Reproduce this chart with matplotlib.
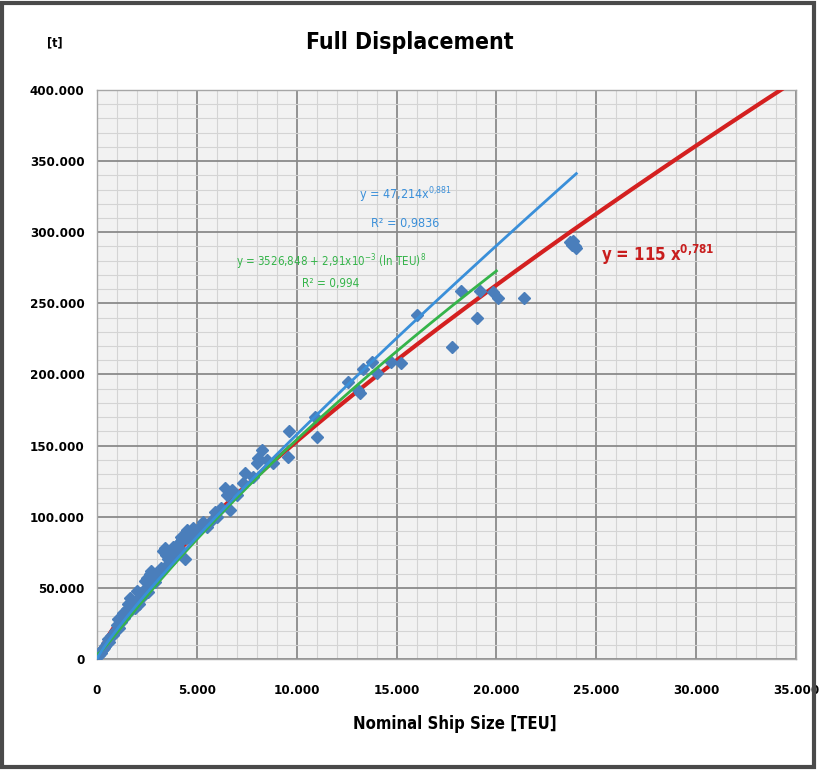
import numpy as np
import matplotlib.pyplot as plt
from matplotlib.patches import Rectangle
from matplotlib.ticker import MultipleLocator, FuncFormatter

plt.rcParams['font.family'] = ['DejaVu Sans']
plt.rcParams['font.stretch'] = 'condensed'
plt.rcParams['mathtext.fontset'] = 'dejavusans'

# Ship data: nominal size [TEU] and full displacement [1000 t]
teu = [100, 150, 200, 250, 300, 350, 400, 500, 550, 600, 700, 800, 900, 1000, 1050,
       1100, 1200, 1300, 1350, 1400, 1500, 1550, 1600, 1650, 1700, 1800, 1900, 2000,
       2050, 2100, 2200, 2300, 2400, 2450, 2500, 2550, 2600, 2650, 2700, 2750, 2800,
       2900, 3000, 3100, 3200, 3300, 3400, 3450, 3500, 3560, 3650, 3700, 3810, 3900,
       4000, 4100, 4160, 4200, 4250, 4310, 4400, 4410, 4450, 4500, 4550, 4600, 4660,
       4700, 4750, 4810, 4900, 5000, 5100, 5310, 5500, 5700, 5910, 6000, 6200, 6410,
       6510, 6660, 6760, 7000, 7310, 7410, 7800, 8010, 8060, 8260, 8500, 8810, 9560,
       9610, 10920, 11020, 12570, 13070, 13170, 13320, 13770, 14020, 14720, 15220,
       16020, 17780, 18230, 19030, 19180, 19830, 20080, 21380, 23700, 23780, 23850,
       23930, 24000]
disp_kt = [3, 5, 4, 6, 7, 8, 9, 11, 14, 12, 16, 17, 20, 24, 28,
           22, 26, 32, 29, 31, 35, 39, 33, 43, 37, 40, 36, 48,
           42, 39, 45, 44, 55, 50, 57, 47, 52, 60, 62, 58, 59,
           54, 58, 61, 64, 76, 78, 73, 66, 70, 68, 72, 79, 75,
           80, 78, 82, 86, 84, 86, 88, 70, 85, 91, 87, 89, 84,
           90, 86, 92, 88, 90, 92, 96, 93, 97, 103, 100, 106, 120,
           115, 105, 119, 115, 124, 131, 128, 138, 141, 147, 140, 138, 142,
           160, 170, 156, 195, 189, 187, 204, 209, 201, 209, 208,
           242, 219, 259, 240, 259, 258, 254, 254, 293, 291, 294,
           290, 289]

# Trend line coefficients as printed on the chart
red_a, red_b = 115, 0.781
blue_a, blue_b = 47.214, 0.881
green_c, green_a, green_n = 3526.848, 2.91e-3, 8
blue_end = 24000
green_end = 20000

fig = plt.figure(figsize=(8.27, 7.72), dpi=100)
ax = fig.add_axes([0.1173, 0.1464, 0.8452, 0.737])

ax.set_facecolor('#f2f2f2')
ax.set_xlim(0, 35000)
ax.set_ylim(0, 400000)
ax.xaxis.set_major_locator(MultipleLocator(5000))
ax.xaxis.set_minor_locator(MultipleLocator(1000))
ax.yaxis.set_major_locator(MultipleLocator(50000))
ax.yaxis.set_minor_locator(MultipleLocator(10000))
ax.grid(which='minor', color='#d4d4d4', lw=0.8)
ax.grid(which='major', color='#8a8a8a', lw=1.3)
ax.set_axisbelow(True)
ax.tick_params(which='both', length=0, labelsize=9.5)
ax.tick_params(axis='x', pad=18)
ax.tick_params(axis='y', pad=9)
fmt = FuncFormatter(lambda v, p: f'{int(v):,}'.replace(',', '.'))
ax.xaxis.set_major_formatter(fmt)
ax.yaxis.set_major_formatter(fmt)
for lab in ax.get_xticklabels() + ax.get_yticklabels():
    lab.set_fontweight('bold')
for s in ax.spines.values():
    s.set_color('#a6a6a6')
    s.set_linewidth(1.0)

# Trend lines
xr = np.linspace(0, 35000, 400)
ax.plot(xr, red_a * xr ** red_b, color='#d42020', lw=3, zorder=3)

ax.plot(teu, np.array(disp_kt) * 1000, 'D', color='#4a7ebb', ms=6.5, mec='#4a7ebb', zorder=4)

xg = np.linspace(50, green_end, 300)
ax.plot(xg, green_c + green_a * np.log(xg) ** green_n, color='#35b44a', lw=2, zorder=5)
xb = np.linspace(0, blue_end, 300)
ax.plot(xb, blue_a * xb ** blue_b, color='#3a8fd9', lw=2, zorder=6)

# Equation labels
ax.text(15450, 326000, r'y = 47,214x$^{0{,}881}$', color='#3a8fd9', fontsize=9,
        ha='center', va='center')
ax.text(15450, 306500, 'R² = 0,9836', color='#3a8fd9', fontsize=9,
        ha='center', va='center')
ax.text(11700, 279000, r'y = 3526,848 + 2,91x10$^{-3}$ (ln TEU)$^{8}$', color='#35b44a',
        fontsize=8.3, ha='center', va='center')
ax.text(11700, 264000, 'R² = 0,994', color='#35b44a', fontsize=8.5,
        ha='center', va='center')
ax.text(28100, 284000, r'y = 115 x$^{\mathbf{0{,}781}}$', color='#c81e1e', fontsize=12,
        fontweight='bold', ha='center', va='center')

fig.text(0.496, 0.945, 'Full Displacement', fontsize=16.5, fontweight='bold',
         ha='center', va='center')
fig.text(0.066, 0.945, '[t]', fontsize=9, fontweight='bold', ha='center', va='center')
fig.text(0.55, 0.062, 'Nominal Ship Size [TEU]', fontsize=12, fontweight='bold',
         ha='center', va='center')

# Outer frame of the picture
fig.patches.append(Rectangle((0.002, 0.006), 0.982, 0.99, transform=fig.transFigure,
                             fill=False, edgecolor='#4a4a4a', lw=3))

fig.savefig('out.png', dpi=100)
